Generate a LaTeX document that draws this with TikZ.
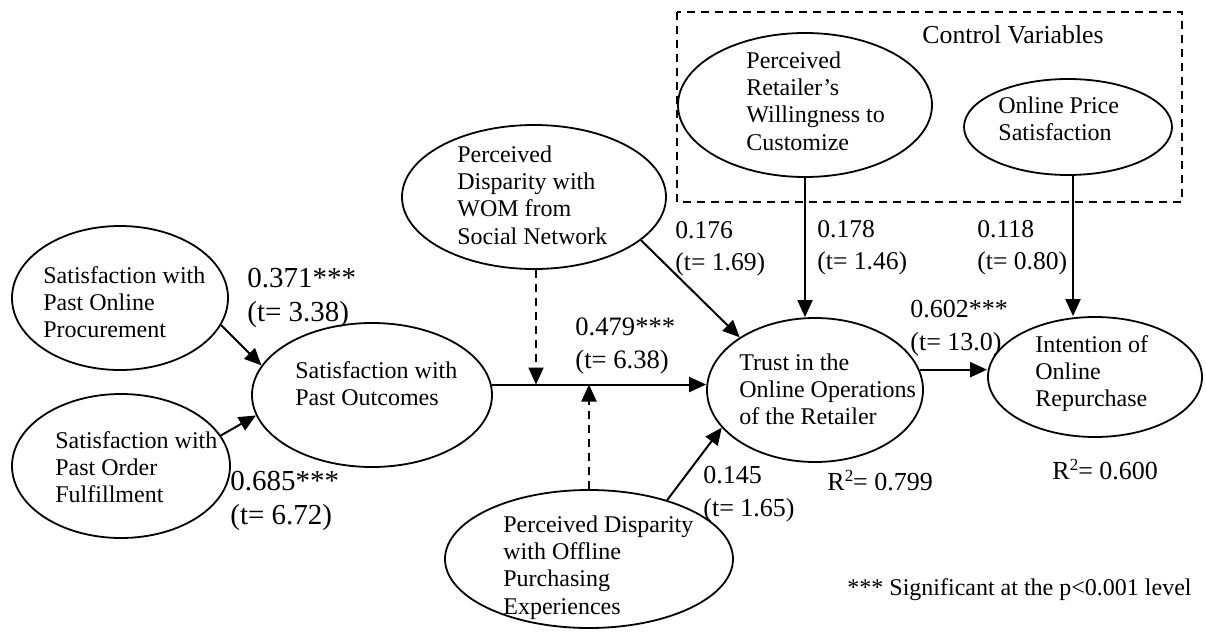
\documentclass[tikz,border=0pt]{standalone}
\usepackage{fontspec}
\setmainfont{Liberation Serif}
\usetikzlibrary{arrows.meta,shapes.geometric}
\newcommand{\sqtwo}{\raisebox{0.75ex}{\fontsize{8.5}{9}\selectfont 2}}
\begin{document}
\begin{tikzpicture}[x=0.5pt,y=-0.5pt,
  ell/.style={draw, line width=0.9pt, ellipse, inner sep=0pt},
  etxt/.style={font=\fontsize{12}{13.6}\selectfont, align=left, inner sep=0pt, anchor=north west},
  lbl/.style={font=\fontsize{14.5}{16.8}\selectfont, align=left, inner sep=0pt, anchor=north west},
  lblm/.style={lbl, font=\fontsize{13}{16.5}\selectfont},
  lbls/.style={lbl, font=\fontsize{12.8}{16}\selectfont},
  single/.style={inner sep=0pt, anchor=base west},
  arr/.style={line width=1pt, -{Triangle[length=8.5pt,width=7.5pt]}},
  darr/.style={arr, dash pattern=on 4pt off 3pt},
  cvbox/.style={line width=0.9pt, dash pattern=on 4pt off 3pt},
]
\useasboundingbox (0,0) rectangle (1206,632);

% control variables box
\draw[cvbox] (677,12) rectangle (1182,202);
\node[single, font=\fontsize{12.9}{14}\selectfont] (cvt) at (922,43) {Control Variables};

% ellipses
\node[ell, minimum width=108pt, minimum height=72pt] (spop) at (120,298) {};
\node[ell, minimum width=109pt, minimum height=72pt] (spof) at (121,466) {};
\node[ell, minimum width=120pt, minimum height=72pt] (spo)  at (372,395) {};
\node[ell, minimum width=132pt, minimum height=72pt] (pdw)  at (534,197) {};
\node[ell, minimum width=144pt, minimum height=69pt] (pdo)  at (589,559) {};
\node[ell, minimum width=108pt, minimum height=72pt] (tru)  at (815,390) {};
\node[ell, minimum width=107pt, minimum height=60pt] (int)  at (1095,377) {};
\node[ell, minimum width=127pt, minimum height=72pt] (prw)  at (805,105) {};
\node[ell, minimum width=104pt, minimum height=48pt] (ops)  at (1068,127) {};

% ellipse texts
\node[etxt] (spopt) at (43,264)  {\strut Satisfaction with\\Past Online\\Procurement};
\node[etxt] (spoft) at (55,429)  {\strut Satisfaction with\\Past Order\\Fulfillment};
\node[etxt] (spot)  at (295,359) {\strut Satisfaction with\\Past Outcomes};
\node[etxt] (pdwt)  at (457,143) {\strut Perceived\\Disparity with\\WOM from\\Social Network};
\node[etxt] (pdot)  at (503,513) {\strut Perceived Disparity\\with Offline\\Purchasing\\Experiences};
\node[etxt] (trut)  at (739,351) {\strut Trust in the\\Online Operations\\of the Retailer};
\node[etxt] (intt)  at (1035,333) {\strut Intention of\\Online\\Repurchase};
\node[etxt] (prwt)  at (746,49)  {\strut Perceived\\Retailer’s\\Willingness to\\Customize};
\node[etxt] (opst)  at (998,94)  {\strut Online Price\\Satisfaction};

% connectors
\coordinate (hl) at (spo.5);
\draw[arr] (spop.-15) -- (spo.165);
\draw[arr] (spof.17) -- (spo.-170);
\draw[arr] (hl) -- (hl -| tru.west);
\draw[darr] (pdw.south -| 536,0) -- (hl -| 536,0);
\draw[darr] (pdo.north) -- (pdo.north |- hl);
\draw[arr] (pdw.-22) -- (tru.145);
\draw[arr] (pdo.37) -- (tru.-158);
\draw[arr] (prw.south) -- (prw.south |- tru.north);
\draw[arr] ([xshift=2.5pt]ops.south) -- ([xshift=2.5pt]ops.south |- int.north);
\draw[arr] (tru.11) -- (tru.11 -| int.west);

% path labels
\node[lbl]  (l371) at (247,263.5) {\strut 0.371***\\(t= 3.38)};
\node[lbl]  (l685) at (230,466.5) {\strut 0.685***\\(t= 6.72)};
\node[lbl, font=\fontsize{13.3}{16.5}\selectfont] (l479) at (575,311.9) {\strut 0.479***\\(t= 6.38)};
\node[lbls] (l176) at (675,215.6) {\strut 0.176\\(t= 1.69)};
\node[lbls] (l178) at (817,214.6) {\strut 0.178\\(t= 1.46)};
\node[lbls] (l118) at (977,214.6) {\strut 0.118\\(t= 0.80)};
\node[lblm] (l602) at (910,293.9) {\strut 0.602***\\(t= 13.0)};
\node[lblm] (l145) at (703,459.9) {\strut 0.145\\(t= 1.65)};

\node[single, font=\fontsize{13}{16.5}\selectfont] (r2a) at (827,490) {R\sqtwo= 0.799};
\node[single, font=\fontsize{13}{16.5}\selectfont] (r2b) at (1052,479) {R\sqtwo= 0.600};

\node[single, font=\fontsize{12}{13.6}\selectfont] (note) at (847,595) {*** Significant at the p<0.001 level};
\end{tikzpicture}
\end{document}
